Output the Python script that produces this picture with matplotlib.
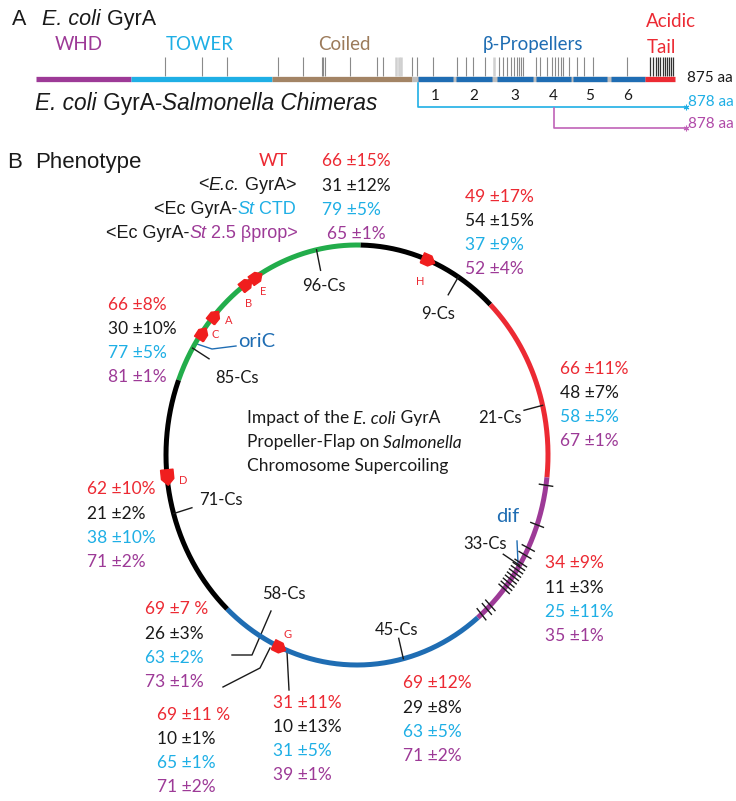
import numpy as np
import matplotlib.pyplot as plt

RED = '#ec2a33'
BLACK = '#1a1a1a'
CYAN = '#1fafe5'
PURPLE = '#9d3a97'
BLUE = '#1f6db3'
GREEN = '#22ad4b'
BROWN = '#9c7b5b'
GRAY = '#bdbdbd'
SANS = ['Liberation Sans', 'DejaVu Sans']
MYR = ['Lato', 'DejaVu Sans']

# ---------------- panel A : E. coli GyrA (residues) ----------------
gyra_len = 875
dom_start = [1, 131, 324, 515]
dom_end = [131, 324, 515, 834]
dom_color = [PURPLE, CYAN, '#a38465', GRAY]
blade_start = [524, 576, 632, 685, 735, 787]
blade_end = [571, 625, 681, 733, 782, 834]
tail = [834, 875]
site_ticks = [178, 228, 262, 332, 366, 392, 394, 396, 431, 468, 476, 515, 522,
              544, 577, 589, 599, 615, 634, 640, 645, 651, 655, 659, 662, 664,
              667, 685, 690, 700, 707, 711, 715, 719, 722, 730, 741, 750, 763, 809]
shade_ticks = [493, 497, 500, 627]
tail_ticks = [841, 845, 849, 852, 855, 858, 861, 864, 867, 870, 872]
ctd_chimera = 524
bprop_chimera = 709
chimera_len = 878

# ---------------- panel B : chromosome map (centisomes) ----------------
arc_start = [80.8, 0.3, 12.3, 26.7, 39.1, 61.9]
arc_end = [100.3, 12.3, 26.7, 39.1, 61.9, 80.8]
arc_color = [GREEN, 'black', RED, PURPLE, BLUE, 'black']
cs_names = ['96-Cs', '9-Cs', '21-Cs', '33-Cs', '45-Cs', '71-Cs', '85-Cs']
cs_pos = [96.6, 8.9, 21.2, 33.8, 46.1, 70.5, 83.5]
cs_lab_r = [0.83, 0.80, 0.77, 0.79, 0.85, 0.74, 0.73]
site_58 = 58.4
rrn_names = ['H', 'E', 'B', 'A', 'C', 'D', 'G']
rrn_pos = [6.1, 91.1, 90.1, 86.5, 84.9, 73.3, 56.7]
rrn_dir = [1, 1, 1, 1, 1, -1, -1]
rrn_lab_shift = [0.0, -0.1, -0.7, 0.6, 0.6, -0.4, -0.3]
rrn_lab_r = [0.89, 0.92, 0.92, 0.93, 0.94, 0.92, 0.93]
dif_ticks = [27.3, 30.4, 32.3, 32.9, 33.6, 33.9, 34.2, 34.5, 34.8, 35.1, 35.4,
             35.7, 36.0, 37.7, 38.1, 38.7]

wt_mean = [66, 49, 66, 66, 62, 34, 69, 69, 31, 69]
wt_err = [15, 17, 8, 11, 10, 9, 7, 11, 11, 12]
ec_mean = [31, 54, 30, 48, 21, 11, 26, 10, 10, 29]
ec_err = [12, 15, 10, 7, 2, 3, 3, 1, 13, 8]
ctd_mean = [79, 37, 77, 58, 38, 25, 63, 65, 31, 63]
ctd_err = [5, 9, 5, 5, 10, 11, 2, 1, 5, 5]
bp_mean = [65, 52, 81, 67, 71, 35, 73, 71, 39, 71]
bp_err = [1, 4, 1, 1, 2, 1, 1, 2, 1, 2]
spaced_pct = [6, 7]   # groups written as "69 ±7 %"

group_xy = [(322, 160), (465, 195), (108, 303), (560, 367), (87, 488),
            (545, 562), (145, 608), (157, 713), (273, 701), (403, 682)]


def rich(ax, x, y, parts, size, ha='left', family=SANS):
    seq = parts if ha == 'left' else parts[::-1]
    prev = None
    for s, c, st in seq:
        kw = dict(color=c, fontsize=size, family=family, style=st)
        if prev is None:
            prev = ax.text(x, y, s, ha=ha, va='center_baseline', **kw)
        else:
            prev = ax.annotate(s, xy=(1 if ha == 'left' else 0, 0), xycoords=prev,
                               ha=ha, va='bottom', **kw)


fig = plt.figure(figsize=(7.36, 8.01), dpi=100)
ax = fig.add_axes([0, 0, 1, 1])
ax.set_xlim(0, 736)
ax.set_ylim(801, 0)
ax.axis('off')

# panel A axes: x in residues, y in pixels of the top band
ax_a = fig.add_axes([0, 1 - 140 / 801, 1, 140 / 801])
ax_a.set_xlim(-35 * gyra_len / 640, (736 - 35) * gyra_len / 640)
ax_a.set_ylim(140, 0)
ax_a.axis('off')

bar_y = 78.5
ax_a.vlines(site_ticks, 57, 76, colors='#8a8a8a', lw=0.8)
ax_a.vlines(shade_ticks, 57, 76, colors='#d0d0d0', lw=1.8)
ax_a.vlines(tail_ticks, 57, 76, colors='#333333', lw=0.9)
for s, e, c in zip(dom_start, dom_end, dom_color):
    ax_a.plot([s, e], [bar_y, bar_y], color=c, lw=3.8, solid_capstyle='butt')
for i, (s, e) in enumerate(zip(blade_start, blade_end)):
    ax_a.plot([s, e], [bar_y, bar_y], color=BLUE, lw=3.8, solid_capstyle='butt')
    ax_a.text((s + e) / 2, 94, str(i + 1), ha='center', va='center_baseline',
              fontsize=11, family=MYR, color=BLACK)
ax_a.plot(tail, [bar_y, bar_y], color=RED, lw=3.8, solid_capstyle='butt')
ax_a.text(891, 77, f'{gyra_len} aa', ha='left', va='center_baseline', fontsize=11,
          family=MYR, color=BLACK)

end_x = 890
ax_a.plot([ctd_chimera, ctd_chimera, end_x], [83, 107, 107], color=CYAN, lw=1.2)
ax_a.plot([bprop_chimera, bprop_chimera, end_x], [108, 128, 128], color='#c062b8', lw=1.2)
ax_a.plot([end_x], [107], marker=(6, 2, 0), ms=4, color=CYAN, mew=0.8)
ax_a.plot([end_x], [128], marker=(6, 2, 0), ms=4, color='#c062b8', mew=0.8)
ax_a.text(end_x + 3, 101, f'{chimera_len} aa', ha='left', va='center_baseline',
          fontsize=11, family=MYR, color=CYAN)
ax_a.text(end_x + 3, 123, f'{chimera_len} aa', ha='left', va='center_baseline',
          fontsize=11, family=MYR, color='#b04aa8')

ax.text(12, 17, 'A', fontsize=15.5, family=SANS, color=BLACK, va='center_baseline')
rich(ax, 42, 17, [('E. coli', BLACK, 'italic'), (' GyrA', BLACK, 'normal')], 15.5)
for lab, x, c in zip(['WHD', 'TOWER', 'Coiled', 'β-Propellers'],
                     [55, 166, 318, 483], [PURPLE, CYAN, BROWN, BLUE]):
    ax.text(x, 43, lab, fontsize=13.5, family=MYR, color=c, va='center_baseline')
ax.text(646, 20, 'Acidic', fontsize=13.5, family=MYR, color=RED, va='center_baseline')
ax.text(647, 46, 'Tail', fontsize=13.5, family=MYR, color=RED, va='center_baseline')
rich(ax, 35, 101, [('E. coli', BLACK, 'italic'), (' GyrA-', BLACK, 'normal'),
                   ('Salmonella Chimeras', BLACK, 'italic')], 16.3)

# ---------------- panel B ----------------
ax.text(7, 160, 'B', fontsize=16, family=SANS, color=BLACK, va='center_baseline')
ax.text(35, 160, 'Phenotype', fontsize=16, family=SANS, color=BLACK, va='center_baseline')
ax.text(288, 160, 'WT', fontsize=13, family=MYR, color=RED, ha='right', va='center_baseline')
rich(ax, 296, 183, [('<', BLACK, 'normal'), ('E.c.', BLACK, 'italic'),
                    (' GyrA>', BLACK, 'normal')], 13, ha='right')
rich(ax, 296, 207, [('<Ec GyrA-', BLACK, 'normal'), ('St', CYAN, 'italic'),
                    (' CTD', CYAN, 'normal')], 13, ha='right')
rich(ax, 298, 231, [('<Ec GyrA-', BLACK, 'normal'), ('St', PURPLE, 'italic'),
                    (' 2.5 βprop>', PURPLE, 'normal')], 13, ha='right')

rows = [(wt_mean, wt_err, RED), (ec_mean, ec_err, BLACK),
        (ctd_mean, ctd_err, CYAN), (bp_mean, bp_err, PURPLE)]
for g, (x, y) in enumerate(group_xy):
    for k, (m, e, c) in enumerate(rows):
        sp = ' ' if (g in spaced_pct and k == 0) else ''
        dx = 5 if (g == 0 and k == 3) else 0
        ax.text(x + dx, y + 24.2 * k, f'{m[g]} ±{e[g]}{sp}%', fontsize=12.5, family=MYR,
                color=c, ha='left', va='center_baseline')

rich(ax, 247, 417, [('Impact of the', BLACK, 'normal'), (' E. coli', BLACK, 'italic'),
                    (' GyrA', BLACK, 'normal')], 12.5, family=MYR)
rich(ax, 247, 441, [('Propeller-Flap on', BLACK, 'normal'),
                    (' Salmonella', BLACK, 'italic')], 12.5, family=MYR)
rich(ax, 247, 465, [('Chromosome Supercoiling', BLACK, 'normal')], 12.5, family=MYR)

# leader lines and site markers in pixel space
ax.plot([271, 252, 232], [611, 655, 655], color=BLACK, lw=1)
ax.plot([270, 260, 223], [648, 668, 687], color=BLACK, lw=1)
ax.plot([287, 289], [652, 690], color=BLACK, lw=1)
ax.plot([517, 518], [541, 563], color=BLUE, lw=1)
ax.plot([197, 212, 236], [344, 349, 346], color=BLUE, lw=1)
ax.text(496, 515, 'dif', fontsize=14.5, family=MYR, color=BLUE, va='center_baseline')
ax.text(238, 340, 'oriC', fontsize=14.5, family=MYR, color=BLUE, va='center_baseline')

# chromosome circle on a stretched polar axes
cx, cy, rx, ry, rmax = 357, 455, 191, 210, 1.15
ax_c = fig.add_axes([(cx - rx * rmax) / 736, (801 - cy - ry * rmax) / 801,
                     2 * rx * rmax / 736, 2 * ry * rmax / 801], projection='polar')
ax_c.set_theta_zero_location('N')
ax_c.set_theta_direction(-1)
ax_c.set_ylim(0, rmax)
ax_c.set_aspect('auto')
ax_c.axis('off')
ax_c.patch.set_alpha(0)


def th(cs):
    return np.asarray(cs) * 2 * np.pi / 100


for s, e, c in zip(arc_start, arc_end, arc_color):
    t = th(np.linspace(s, e, 200))
    ax_c.plot(t, np.ones_like(t), color=c, lw=3.6, solid_capstyle='butt', clip_on=False)
for p in dif_ticks:
    ax_c.plot([th(p)] * 2, [0.965, 1.035], color=BLACK, lw=1, clip_on=False)
for name, p, r in zip(cs_names, cs_pos, cs_lab_r):
    ax_c.plot([th(p)] * 2, [1.0, 0.9], color=BLACK, lw=1, clip_on=False)
    ax_c.text(th(p), r, name, fontsize=12, family=MYR, color=BLACK,
              ha='center', va='center_baseline')
ax_c.text(th(site_58), 0.76, '58-Cs', fontsize=12, family=MYR, color=BLACK,
          ha='center', va='center_baseline')

arrow = np.array([[-1, -0.8], [0.2, -0.8], [1, 0], [0.2, 0.8], [-1, 0.8], [-1, -0.8]])
for name, p, d, sh, lr in zip(rrn_names, rrn_pos, rrn_dir, rrn_lab_shift, rrn_lab_r):
    t = th(p)
    ang = np.arctan2(-ry * np.sin(t) * d, rx * np.cos(t) * d)
    rot = np.array([[np.cos(ang), -np.sin(ang)], [np.sin(ang), np.cos(ang)]])
    ax_c.plot([t], [1.0], marker=arrow @ rot.T, ms=12, color='#f01e1e', mec='#f01e1e',
              clip_on=False, zorder=5)
    ax_c.text(th(p + sh), lr, name, fontsize=8, family=MYR, color=RED,
              ha='center', va='center')

fig.savefig('out.png', dpi=100)
